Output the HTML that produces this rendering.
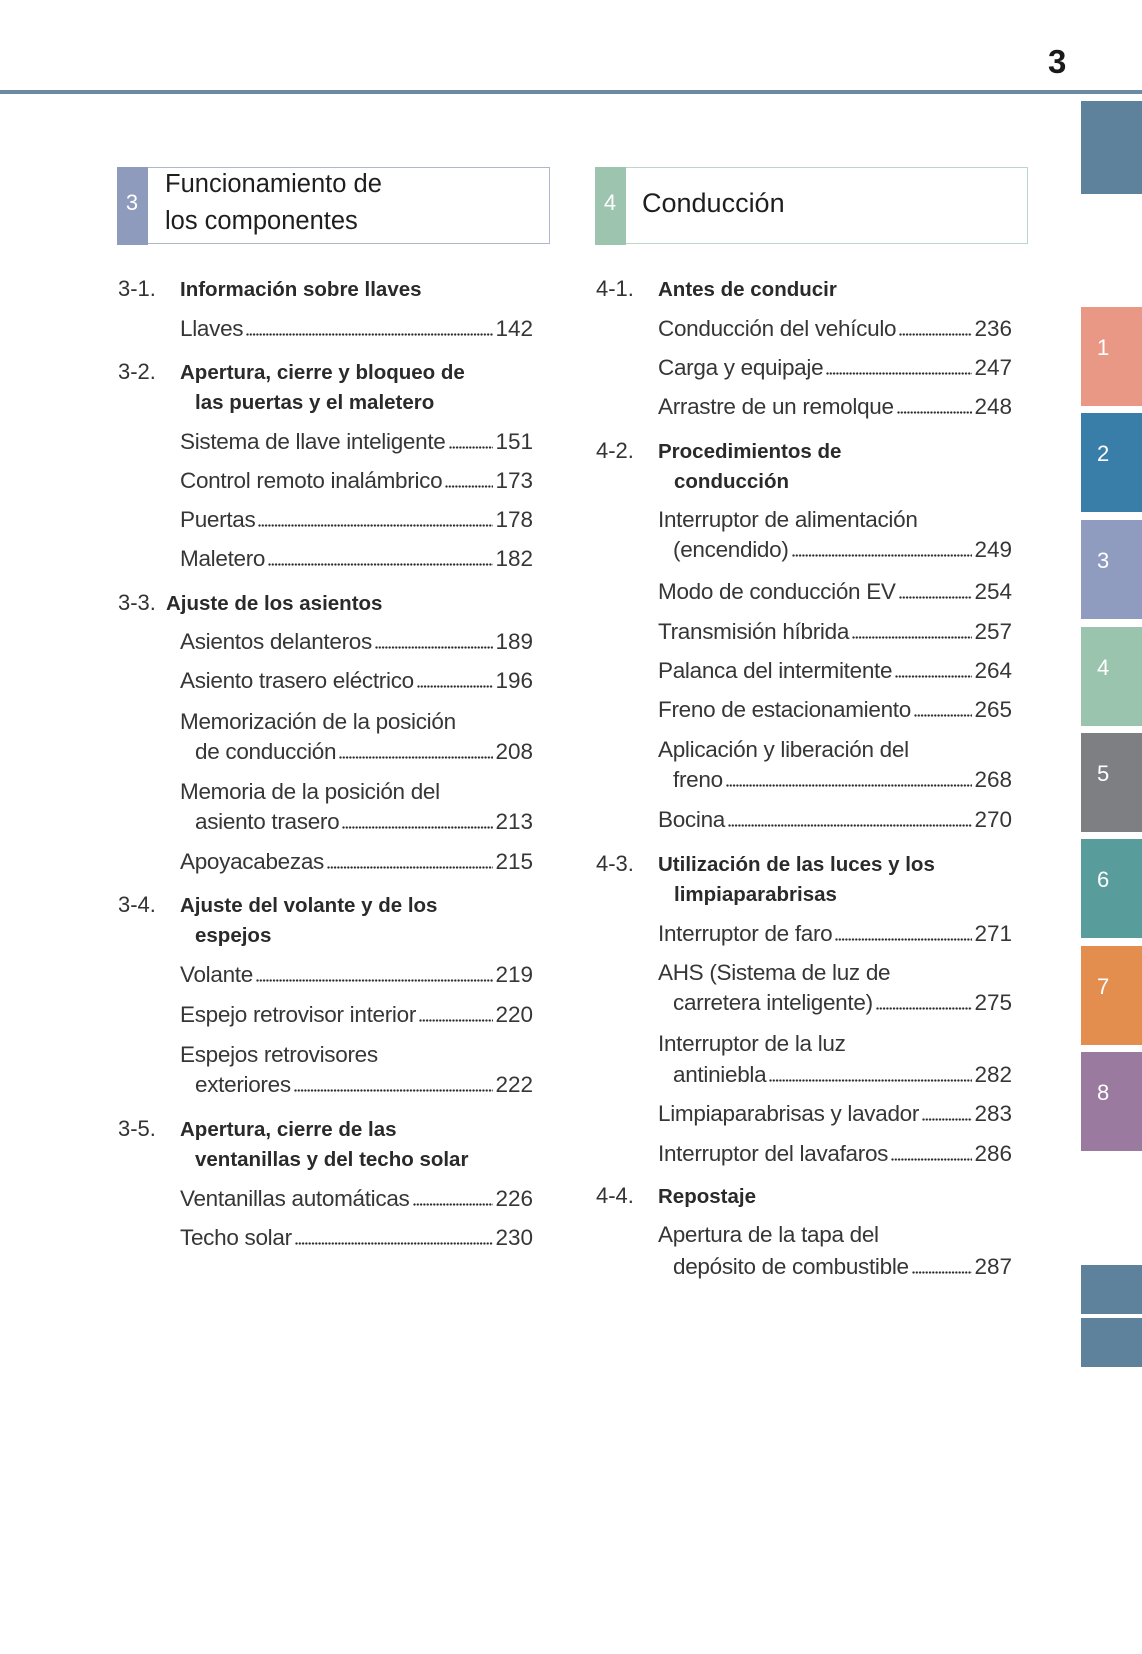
<!DOCTYPE html>
<html>
<head>
<meta charset="utf-8">
<style>
html,body{margin:0;padding:0;background:#fff;}
body{width:1142px;height:1654px;position:relative;overflow:hidden;font-family:"Liberation Sans",Arial,sans-serif;}
.abs{position:absolute;}
.line{position:absolute;left:0;top:90px;width:1142px;height:4px;background:#6b8ba4;}
.pg{position:absolute;left:1048px;top:47px;font-size:33px;font-weight:bold;line-height:30px;color:#1a1a1a;}
.tab{position:absolute;left:1081px;width:61px;height:99px;}
.tn{position:absolute;left:16px;top:26px;font-size:22px;line-height:30px;color:#fff;}
.box{position:absolute;top:167px;height:77px;box-sizing:border-box;}
.strip{position:absolute;left:0;top:0;bottom:0;width:31px;}
.sn{position:absolute;left:0;width:31px;text-align:center;font-size:22px;line-height:30px;color:#fff;top:20px;}
.bt{position:absolute;font-size:25.5px;line-height:30px;color:#1e1e1e;white-space:nowrap;}
.n{position:absolute;font-size:22px;line-height:30px;color:#333;white-space:nowrap;}
.h{position:absolute;font-size:20.5px;font-weight:bold;line-height:30px;color:#2a2a2a;white-space:nowrap;}
.r{position:absolute;display:flex;align-items:baseline;line-height:30px;font-size:22.5px;letter-spacing:-0.3px;color:#363636;white-space:nowrap;box-sizing:border-box;}
.L{left:180px;width:353px;}
.R{left:658px;width:354px;}
.i{padding-left:15px;}
.d{flex:1;height:3px;margin:0 2px 0 3px;background-image:radial-gradient(circle at 1.5px 1.5px,#2a2a2a 0.95px,rgba(255,255,255,0) 1.35px);background-size:3.3px 3px;background-repeat:repeat-x;}
.p{letter-spacing:0;}
</style>
</head>
<body>

<div class="pg">3</div>
<div class="line"></div>

<!-- side tabs -->
<div class="abs" style="left:1081px;top:101px;width:61px;height:93px;background:#5f829c;"></div>
<div class="tab" style="top:307px;background:#ea9886;"><div class="tn">1</div></div>
<div class="tab" style="top:413px;background:#387ea8;"><div class="tn">2</div></div>
<div class="tab" style="top:520px;background:#8f9bbf;"><div class="tn">3</div></div>
<div class="tab" style="top:627px;background:#9ac4ae;"><div class="tn">4</div></div>
<div class="tab" style="top:733px;background:#7e7f82;"><div class="tn">5</div></div>
<div class="tab" style="top:839px;background:#589d9c;"><div class="tn">6</div></div>
<div class="tab" style="top:946px;background:#e38e4f;"><div class="tn">7</div></div>
<div class="tab" style="top:1052px;background:#9a7a9f;"><div class="tn">8</div></div>
<div class="abs" style="left:1081px;top:1265px;width:61px;height:49px;background:#5f829c;"></div>
<div class="abs" style="left:1081px;top:1318px;width:61px;height:49px;background:#5f829c;"></div>

<!-- header boxes -->
<div class="box" style="left:117px;width:433px;border:1.5px solid #b0b6cc;">
  <div class="strip" style="background:#8e9bbd;left:-1.5px;top:-1.5px;bottom:-1.5px;"></div>
  <div class="sn" style="left:-1.5px;">3</div>
</div>
<div class="bt" style="left:165px;top:169px;">Funcionamiento de</div>
<div class="bt" style="left:165px;top:206px;">los componentes</div>

<div class="box" style="left:595px;width:433px;border:1.5px solid #b9d8c8;">
  <div class="strip" style="background:#9cc4af;left:-1.5px;top:-1.5px;bottom:-1.5px;"></div>
  <div class="sn" style="left:-1.5px;">4</div>
</div>
<div class="bt" style="left:642px;top:188px;font-size:27px;">Conducción</div>

<!-- LEFT COLUMN -->
<div class="n" style="left:118px;top:274px;">3-1.</div>
<div class="h" style="left:180px;top:275px;">Información sobre llaves</div>
<div class="r L" style="top:314px;"><span>Llaves</span><span class="d"></span><span class="p">142</span></div>

<div class="n" style="left:118px;top:357px;">3-2.</div>
<div class="h" style="left:180px;top:358px;">Apertura, cierre y bloqueo de</div>
<div class="h" style="left:195px;top:388px;">las puertas y el maletero</div>
<div class="r L" style="top:427px;"><span>Sistema de llave inteligente</span><span class="d"></span><span class="p">151</span></div>
<div class="r L" style="top:466px;"><span>Control remoto inalámbrico</span><span class="d"></span><span class="p">173</span></div>
<div class="r L" style="top:505px;"><span>Puertas</span><span class="d"></span><span class="p">178</span></div>
<div class="r L" style="top:544px;"><span>Maletero</span><span class="d"></span><span class="p">182</span></div>

<div class="n" style="left:118px;top:588px;">3-3.</div>
<div class="h" style="left:166px;top:589px;">Ajuste de los asientos</div>
<div class="r L" style="top:627px;"><span>Asientos delanteros</span><span class="d"></span><span class="p">189</span></div>
<div class="r L" style="top:666px;"><span>Asiento trasero eléctrico</span><span class="d"></span><span class="p">196</span></div>
<div class="r L" style="top:707px;"><span>Memorización de la posición</span></div>
<div class="r L i" style="top:737px;"><span>de conducción</span><span class="d"></span><span class="p">208</span></div>
<div class="r L" style="top:777px;"><span>Memoria de la posición del</span></div>
<div class="r L i" style="top:807px;"><span>asiento trasero</span><span class="d"></span><span class="p">213</span></div>
<div class="r L" style="top:847px;"><span>Apoyacabezas</span><span class="d"></span><span class="p">215</span></div>

<div class="n" style="left:118px;top:890px;">3-4.</div>
<div class="h" style="left:180px;top:891px;">Ajuste del volante y de los</div>
<div class="h" style="left:195px;top:921px;">espejos</div>
<div class="r L" style="top:960px;"><span>Volante</span><span class="d"></span><span class="p">219</span></div>
<div class="r L" style="top:1000px;"><span>Espejo retrovisor interior</span><span class="d"></span><span class="p">220</span></div>
<div class="r L" style="top:1040px;"><span>Espejos retrovisores</span></div>
<div class="r L i" style="top:1070px;"><span>exteriores</span><span class="d"></span><span class="p">222</span></div>

<div class="n" style="left:118px;top:1114px;">3-5.</div>
<div class="h" style="left:180px;top:1115px;">Apertura, cierre de las</div>
<div class="h" style="left:195px;top:1145px;">ventanillas y del techo solar</div>
<div class="r L" style="top:1184px;"><span>Ventanillas automáticas</span><span class="d"></span><span class="p">226</span></div>
<div class="r L" style="top:1223px;"><span>Techo solar</span><span class="d"></span><span class="p">230</span></div>

<!-- RIGHT COLUMN -->
<div class="n" style="left:596px;top:274px;">4-1.</div>
<div class="h" style="left:658px;top:275px;">Antes de conducir</div>
<div class="r R" style="top:314px;"><span>Conducción del vehículo</span><span class="d"></span><span class="p">236</span></div>
<div class="r R" style="top:353px;"><span>Carga y equipaje</span><span class="d"></span><span class="p">247</span></div>
<div class="r R" style="top:392px;"><span>Arrastre de un remolque</span><span class="d"></span><span class="p">248</span></div>

<div class="n" style="left:596px;top:436px;">4-2.</div>
<div class="h" style="left:658px;top:437px;">Procedimientos de</div>
<div class="h" style="left:674px;top:467px;">conducción</div>
<div class="r R" style="top:505px;"><span>Interruptor de alimentación</span></div>
<div class="r R i" style="top:535px;"><span>(encendido)</span><span class="d"></span><span class="p">249</span></div>
<div class="r R" style="top:577px;"><span>Modo de conducción EV</span><span class="d"></span><span class="p">254</span></div>
<div class="r R" style="top:617px;"><span>Transmisión híbrida</span><span class="d"></span><span class="p">257</span></div>
<div class="r R" style="top:656px;"><span>Palanca del intermitente</span><span class="d"></span><span class="p">264</span></div>
<div class="r R" style="top:695px;"><span>Freno de estacionamiento</span><span class="d"></span><span class="p">265</span></div>
<div class="r R" style="top:735px;"><span>Aplicación y liberación del</span></div>
<div class="r R i" style="top:765px;"><span>freno</span><span class="d"></span><span class="p">268</span></div>
<div class="r R" style="top:805px;"><span>Bocina</span><span class="d"></span><span class="p">270</span></div>

<div class="n" style="left:596px;top:849px;">4-3.</div>
<div class="h" style="left:658px;top:850px;">Utilización de las luces y los</div>
<div class="h" style="left:674px;top:880px;">limpiaparabrisas</div>
<div class="r R" style="top:919px;"><span>Interruptor de faro</span><span class="d"></span><span class="p">271</span></div>
<div class="r R" style="top:958px;"><span>AHS (Sistema de luz de</span></div>
<div class="r R i" style="top:988px;"><span>carretera inteligente)</span><span class="d"></span><span class="p">275</span></div>
<div class="r R" style="top:1029px;"><span>Interruptor de la luz</span></div>
<div class="r R i" style="top:1060px;"><span>antiniebla</span><span class="d"></span><span class="p">282</span></div>
<div class="r R" style="top:1099px;"><span>Limpiaparabrisas y lavador</span><span class="d"></span><span class="p">283</span></div>
<div class="r R" style="top:1139px;"><span>Interruptor del lavafaros</span><span class="d"></span><span class="p">286</span></div>

<div class="n" style="left:596px;top:1181px;">4-4.</div>
<div class="h" style="left:658px;top:1182px;">Repostaje</div>
<div class="r R" style="top:1220px;"><span>Apertura de la tapa del</span></div>
<div class="r R i" style="top:1252px;"><span>depósito de combustible</span><span class="d"></span><span class="p">287</span></div>

</body>
</html>
